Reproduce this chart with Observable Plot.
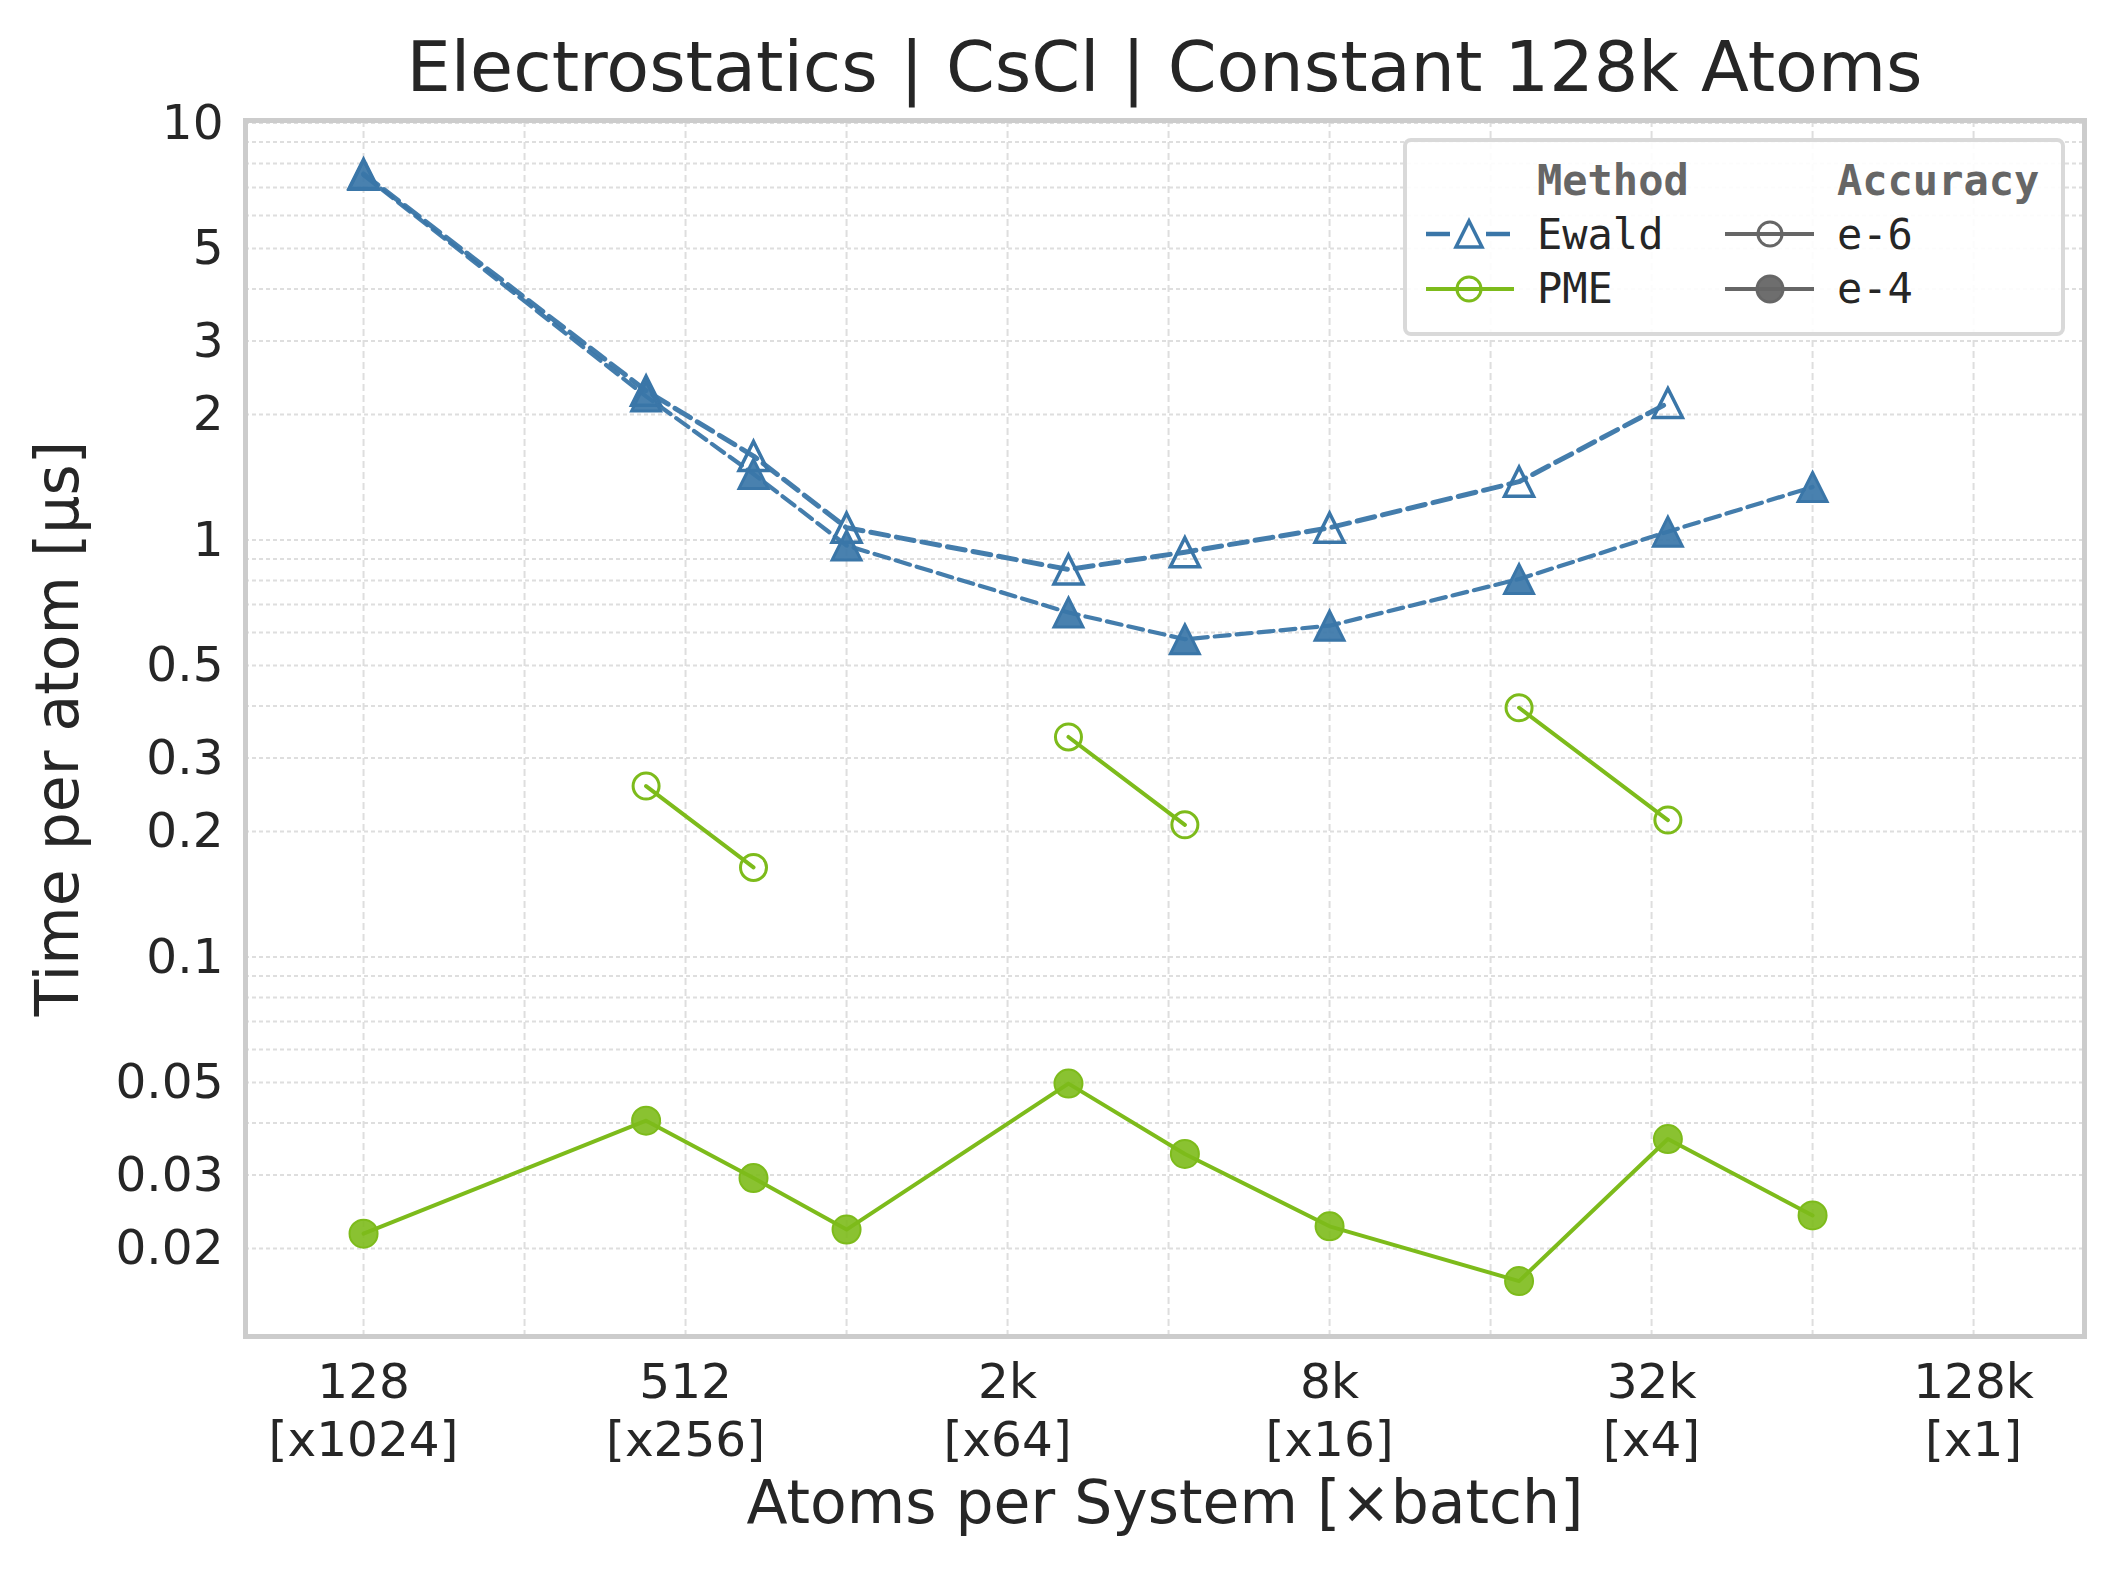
<!DOCTYPE html>
<html>
<head>
<meta charset="utf-8">
<script src="https://cdn.jsdelivr.net/npm/d3@7"></script>
<script src="https://cdn.jsdelivr.net/npm/@observablehq/plot@0.6"></script>
<style>
html, body { margin: 0; padding: 0; background: #ffffff; }
#wrap { position: relative; width: 2119px; height: 1572px; overflow: hidden; background: #ffffff; }
#title { position: absolute; left: 245px; width: 1839px; top: 0; height: 90px; box-sizing: border-box; padding-top: 32px;
  text-align: center; font-family: "DejaVu Sans", sans-serif; font-size: 70px; line-height: 70px; color: #262626; white-space: nowrap; overflow: visible; z-index: 2; }
#chart { position: absolute; left: 0; top: 90px; }
#legend { position: absolute; left: 1400px; top: 135px; z-index: 3; }
</style>
</head>
<body>
<div id="wrap">
  <div id="title">Electrostatics | CsCl | Constant 128k Atoms</div>
  <div id="chart"></div>
  <div id="legend"></div>
</div>
<script>
// ---- data ----
const atoms   = [128, 432, 686, 1024, 2662, 4394, 8192, 18522, 35152, 65536];
const ewaldE6 = [7.55, 2.28, 1.59, 1.07, 0.85, 0.935, 1.07, 1.38, 2.13, null];
const ewaldE4 = [7.5, 2.21, 1.44, 0.97, 0.67, 0.578, 0.623, 0.806, 1.047, 1.34];
const pmeE6   = [null, 0.257, 0.164, null, 0.337, 0.2075, null, 0.396, 0.213, null];
const pmeE4   = [0.0217, 0.0405, 0.0295, 0.0222, 0.0497, 0.0337, 0.0226, 0.0167, 0.0366, 0.0240];

const xTicks      = [128, 512, 2048, 8192, 32768, 131072];
const xTickLabels = ["128\n[x1024]", "512\n[x256]", "2k\n[x64]", "8k\n[x16]", "32k\n[x4]", "128k\n[x1]"];
const xGrid       = [128, 256, 512, 1024, 2048, 4096, 8192, 16384, 32768, 65536, 131072];
const yTicks      = [0.02, 0.03, 0.05, 0.1, 0.2, 0.3, 0.5, 1, 2, 3, 5, 10];
const yTickLabels = ["0.02", "0.03", "0.05", "0.1", "0.2", "0.3", "0.5", "1", "2", "3", "5", "10"];

const methods    = ["Ewald", "PME"];
const accuracies = ["e-6", "e-4"];

const xTitle = "Atoms per System [×batch]";
const yTitle = "Time per atom [µs]";

// ---- styling ----
const blue = "#3a76a8";
const green = "#7dbb1b";
const gray = "#666666";

const table = (vals) => atoms.map((a, i) => ({x: a, y: vals[i]}));
const yGrid = d3.scaleLog().domain([0.02, 10]).ticks();
const xLabelMap = new Map(xTicks.map((d, i) => [d, xTickLabels[i]]));
const yLabelMap = new Map(yTicks.map((d, i) => [d, yTickLabels[i]]));

// matplotlib-like "^" marker (centered at mid-height)
const triangle = {
  draw(ctx, size) {
    const h = Math.sqrt(size / Math.PI);
    ctx.moveTo(0, -h); ctx.lineTo(h, h); ctx.lineTo(-h, h); ctx.closePath();
  }
};

const chart = Plot.plot({
  width: 2119,
  height: 1482,
  marginLeft: 245,
  marginRight: 35,
  marginTop: 30,
  marginBottom: 236,
  style: {fontFamily: "DejaVu Sans, sans-serif", background: "transparent", color: "#262626"},
  x: {type: "log", base: 2, domain: [77, 211300]},
  y: {type: "log", domain: [0.0123, 10.14]},
  marks: [
    Plot.gridX(xGrid, {stroke: "#dedede", strokeOpacity: 1, strokeWidth: 2, strokeDasharray: "7,4"}),
    Plot.gridY(yGrid, {stroke: "#dedede", strokeOpacity: 1, strokeWidth: 2, strokeDasharray: "4,3"}),
    Plot.axisX(xTicks, {tickSize: 0, tickPadding: 20, fontSize: 48.5, lineHeight: 1.2, label: null,
      tickFormat: (d) => xLabelMap.get(d), fill: "#262626"}),
    Plot.axisY(yTicks, {tickSize: 0, tickPadding: 22, fontSize: 48.5, label: null,
      tickFormat: (d) => yLabelMap.get(d), fill: "#262626"}),
    Plot.text([xTitle], {frameAnchor: "bottom", dy: 186, lineAnchor: "bottom", textAnchor: "middle", fontSize: 60, fill: "#262626"}),
    Plot.text([yTitle], {frameAnchor: "left", dx: -210, rotate: -90, lineAnchor: "top", textAnchor: "middle", fontSize: 60, fill: "#262626"}),
    Plot.frame({stroke: "#cccccc", strokeWidth: 5}),

    // Ewald e-6
    Plot.line(table(ewaldE6), {x: "x", y: "y", stroke: blue, strokeWidth: 5, strokeDasharray: "18,8", strokeOpacity: 0.95}),
    Plot.dot(table(ewaldE6), {x: "x", y: "y", symbol: triangle, r: 14.5, fill: "none", stroke: blue, strokeWidth: 3.5}),
    // Ewald e-4
    Plot.line(table(ewaldE4), {x: "x", y: "y", stroke: blue, strokeWidth: 4.2, strokeDasharray: "15,7", strokeOpacity: 0.95}),
    Plot.dot(table(ewaldE4), {x: "x", y: "y", symbol: triangle, r: 14.5, fill: blue, fillOpacity: 0.92, stroke: blue, strokeWidth: 3}),
    // PME e-6
    Plot.line(table(pmeE6), {x: "x", y: "y", stroke: green, strokeWidth: 4}),
    Plot.dot(table(pmeE6), {x: "x", y: "y", r: 13, fill: "none", stroke: green, strokeWidth: 3}),
    // PME e-4
    Plot.line(table(pmeE4), {x: "x", y: "y", stroke: green, strokeWidth: 4}),
    Plot.dot(table(pmeE4), {x: "x", y: "y", r: 14, fill: green, fillOpacity: 0.9, stroke: green, strokeWidth: 2})
  ]
});
document.getElementById("chart").appendChild(chart);

// ---- legend (overlay inside the plot area) ----
const lg = d3.select("#legend").append("svg").attr("width", 670).attr("height", 205)
  .style("font-family", "DejaVu Sans Mono, monospace");
lg.append("rect").attr("x", 5).attr("y", 5).attr("width", 658).attr("height", 194).attr("rx", 6)
  .attr("fill", "#ffffff").attr("fill-opacity", 0.9).attr("stroke", "#d9d9d9").attr("stroke-width", 4);
lg.append("text").attr("x", 137).attr("y", 60).text("Method")
  .attr("font-size", 42).attr("font-weight", "bold").attr("fill", gray);
lg.append("text").attr("x", 437).attr("y", 60).text("Accuracy")
  .attr("font-size", 42).attr("font-weight", "bold").attr("fill", gray);

const rowY = [99, 154];
const rowBase = [114, 168];
const triPath = (cx, cy, h) => `M${cx},${cy - h}L${cx + h},${cy + h}L${cx - h},${cy + h}Z`;

// Method: Ewald
lg.append("line").attr("x1", 26).attr("x2", 50).attr("y1", rowY[0]).attr("y2", rowY[0]).attr("stroke", blue).attr("stroke-width", 4.5);
lg.append("line").attr("x1", 86).attr("x2", 110).attr("y1", rowY[0]).attr("y2", rowY[0]).attr("stroke", blue).attr("stroke-width", 4.5);
lg.append("path").attr("d", triPath(69, rowY[0], 13)).attr("fill", "none").attr("stroke", blue).attr("stroke-width", 3.5);
lg.append("text").attr("x", 137).attr("y", rowBase[0]).text(methods[0]).attr("font-size", 42).attr("fill", "#262626");
// Method: PME
lg.append("line").attr("x1", 26).attr("x2", 114).attr("y1", rowY[1]).attr("y2", rowY[1]).attr("stroke", green).attr("stroke-width", 4);
lg.append("circle").attr("cx", 69).attr("cy", rowY[1]).attr("r", 12).attr("fill", "none").attr("stroke", green).attr("stroke-width", 3);
lg.append("text").attr("x", 137).attr("y", rowBase[1]).text(methods[1]).attr("font-size", 42).attr("fill", "#262626");
// Accuracy
accuracies.forEach((a, i) => {
  lg.append("line").attr("x1", 325).attr("x2", 414).attr("y1", rowY[i]).attr("y2", rowY[i]).attr("stroke", gray).attr("stroke-width", 4);
  lg.append("circle").attr("cx", 370).attr("cy", rowY[i]).attr("r", i === 0 ? 12 : 13)
    .attr("fill", i === 0 ? "none" : gray).attr("fill-opacity", 0.95).attr("stroke", gray).attr("stroke-width", 3);
  lg.append("text").attr("x", 437).attr("y", rowBase[i]).text(a).attr("font-size", 42).attr("fill", "#262626");
});
</script>
</body>
</html>
